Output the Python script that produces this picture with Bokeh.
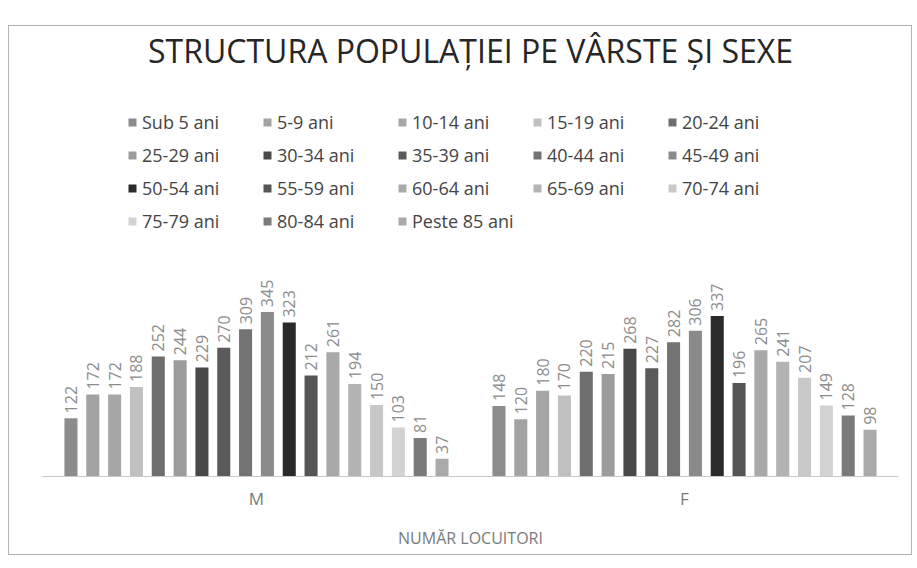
import math
from bokeh.plotting import figure
from bokeh.models import (FactorRange, Range1d, ColumnDataSource, LabelSet,
                          Legend, LegendItem)
from bokeh.transform import dodge
from bokeh.core.properties import value
from bokeh.embed import file_html
from bokeh.resources import INLINE

title_text = "STRUCTURA POPULAȚIEI PE VÂRSTE ȘI SEXE"
axis_title = "NUMĂR LOCUITORI"
sexes = ["M", "F"]
age_groups = ["Sub 5 ani", "5-9 ani", "10-14 ani", "15-19 ani", "20-24 ani",
              "25-29 ani", "30-34 ani", "35-39 ani", "40-44 ani", "45-49 ani",
              "50-54 ani", "55-59 ani", "60-64 ani", "65-69 ani", "70-74 ani",
              "75-79 ani", "80-84 ani", "Peste 85 ani"]
male = [122, 172, 172, 188, 252, 244, 229, 270, 309, 345, 323, 212, 261, 194, 150, 103, 81, 37]
female = [148, 120, 180, 170, 220, 215, 268, 227, 282, 306, 337, 196, 265, 241, 207, 149, 128, 98]
age_colors = ["#8c8c8c", "#a3a3a3", "#a6a6a6", "#c0c0c0", "#6e6e6e",
              "#9c9c9c", "#484848", "#5a5a5a", "#737373", "#8a8a8a",
              "#2a2a2a", "#555555", "#a9a9a9", "#b3b3b3", "#c8c8c8",
              "#d2d2d2", "#7a7a7a", "#aaaaaa"]

p = figure(
    x_range=FactorRange(*sexes),
    y_range=Range1d(0, 850),
    width=904, height=530,
    output_backend="svg", toolbar_location=None,
    min_border_left=33, min_border_right=15, min_border_top=0, min_border_bottom=80,
)
p.styles = {"margin": "25px 0 0 8px", "border": "1px solid #b4b4b4"}

p.title.text = title_text
p.title.align = "center"
p.title.text_font = "Open Sans"
p.title.text_font_size = "32px"
p.title.text_font_style = "normal"
p.title.text_color = "#262626"
p.title.standoff = 0

n = len(age_groups)
slot = 0.051
items = []
for i, (age, col) in enumerate(zip(age_groups, age_colors)):
    src = ColumnDataSource(dict(sex=sexes, top=[male[i], female[i]],
                                label=[str(male[i]), str(female[i])]))
    off = (i - (n - 1) / 2) * slot
    xs = dodge("sex", off, range=p.x_range)
    r = p.vbar(x=xs, top="top", width=0.0305, source=src,
               fill_color=col, line_color=None)
    p.add_layout(LabelSet(x=xs, y="top", text="label", source=src,
                          angle=math.pi / 2, text_align="left", text_baseline="middle",
                          y_offset=5, text_font=value("Open Sans"), text_font_size="16px",
                          text_color="#8c8c8c"))
    items.append(LegendItem(label=age, renderers=[r]))

legend = Legend(items=items, orientation="horizontal", ncols=5,
                location=(85, 243))
legend.label_text_font = "Open Sans"
legend.label_text_font_size = "18px"
legend.label_text_color = "#444444"
legend.glyph_width = 10
legend.glyph_height = 10
legend.label_standoff = 5
legend.label_width = 111
legend.spacing = 9
legend.padding = 0
legend.margin = 0
legend.border_line_color = None
legend.background_fill_alpha = 0
p.add_layout(legend)

p.yaxis.visible = False
p.xgrid.grid_line_color = None
p.ygrid.grid_line_color = None
p.outline_line_color = None

xa = p.xaxis[0]
xa.axis_line_color = "#c8c8c8"
xa.major_tick_line_color = None
xa.minor_tick_line_color = None
xa.major_label_text_font = "Open Sans"
xa.major_label_text_font_size = "17px"
xa.major_label_text_color = "#7a7a7a"
xa.major_label_standoff = 4
xa.axis_label = axis_title
xa.axis_label_text_font = "Open Sans"
xa.axis_label_text_font_size = "16px"
xa.axis_label_text_font_style = "normal"
xa.axis_label_text_color = "#7a7a7a"
xa.axis_label_standoff = 14

open("out.html", "w").write(file_html(p, INLINE))
